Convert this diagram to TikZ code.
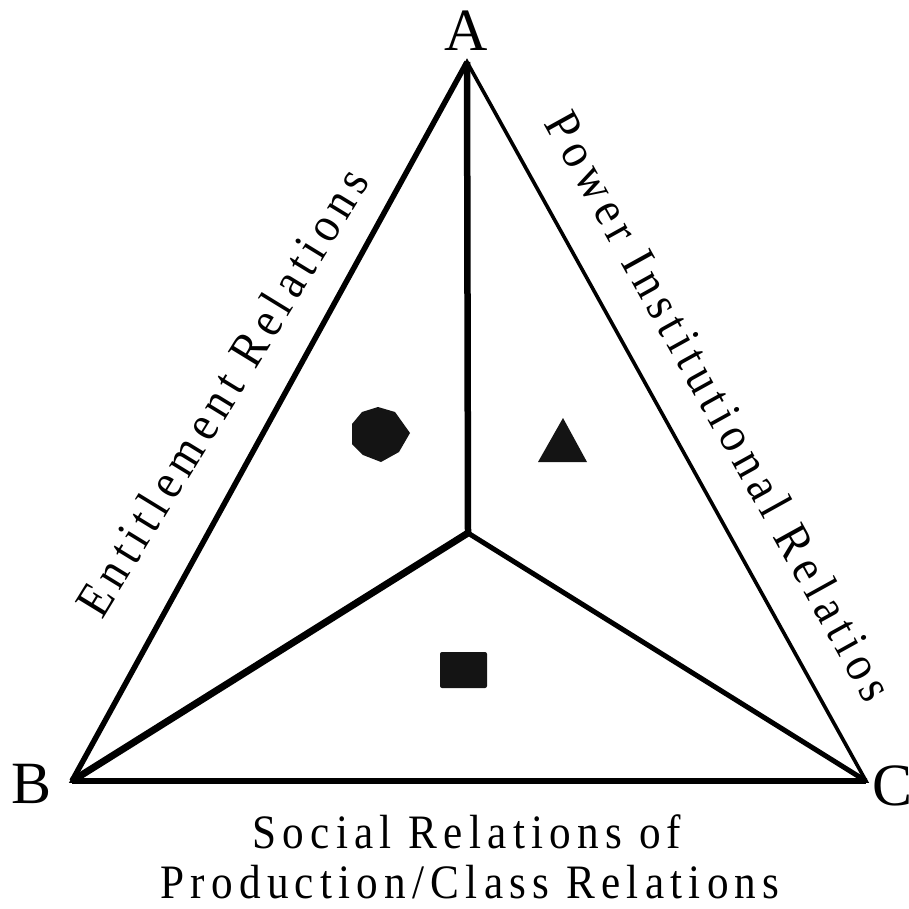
\documentclass[tikz,border=0pt]{standalone}
\usepackage{fontspec}
\setmainfont{Liberation Serif}
\newfontfamily\lblfont[LetterSpace=13,FakeStretch=0.9]{Liberation Serif}
\begin{document}
\begin{tikzpicture}[x=1pt,y=-1pt,
  vtx/.style={inner sep=0pt,font=\fontsize{60}{66}\selectfont},
  lbl/.style={inner sep=0pt,font=\lblfont\fontsize{48}{53}\selectfont},
  sidelbl/.style={inner sep=0pt,font=\lblfont\fontsize{50}{55}\selectfont},
  edgeline/.style={line join=miter,line cap=butt},
  glyphfill/.style={fill=black!92,draw=none}]
\useasboundingbox (0,0) rectangle (909,908);
\fill[white] (0,0) rectangle (909,908);
\coordinate (A) at (467,62);
\coordinate (B) at (72,781);
\coordinate (C) at (866,781);
\coordinate (O) at (468,533);
% outer triangle
\draw[edgeline,line width=3.6] (A) -- (B) -- (C) -- cycle;
\draw[edgeline,line width=5.5] (A) -- (B);
\draw[edgeline,line width=6.5] (B) -- (C);
% inner spokes
\draw[edgeline,line width=6.5] (A) -- (O);
\draw[edgeline,line width=7] (B) -- (O);
\draw[edgeline,line width=5] (O) -- (C);
% vertex letters
\node[vtx,anchor=base] (LA) at (466,50) {A};
\node[vtx,anchor=base] (LB) at (32,803) {B};
\node[vtx,anchor=base west] (LC) at (872,805) {C};
% side labels
\node[sidelbl,rotate=58.5] (LE) at (222,392) {Entitlement Relations};
\node[sidelbl,rotate=-61] (LP) at (720,406) {Power Institutional Relatios};
\node[lbl,anchor=base] (LS1) at (467,848) {Social Relations of};
\node[lbl,anchor=base] (LS2) at (470,898) {Production/Class Relations};
% marks
\fill[glyphfill] (378,407) -- (395,412) -- (410,433) -- (399,452) -- (381,462)
  -- (363,455) -- (352,444) -- (352,424) -- (362,412) -- cycle;
\fill[glyphfill] (563,418) -- (587,462) -- (538,462) -- cycle;
\fill[glyphfill,rounded corners=2] (440,652) rectangle (487,688);
\end{tikzpicture}
\end{document}
